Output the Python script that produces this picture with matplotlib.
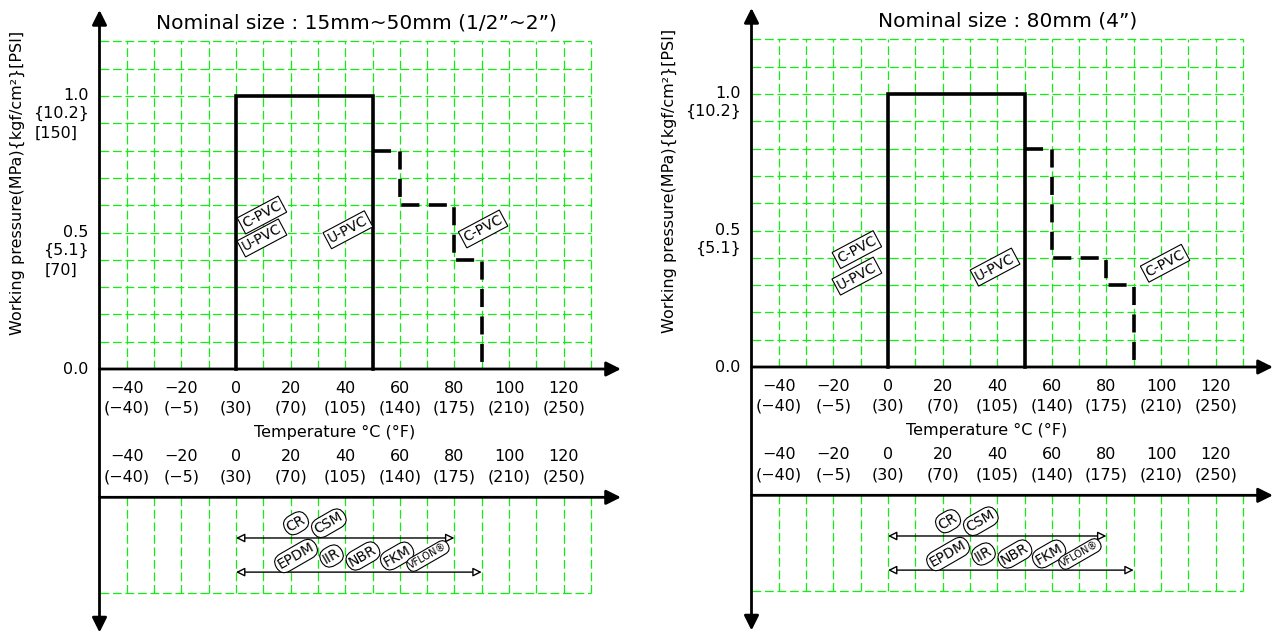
import matplotlib
matplotlib.use("Agg")
import matplotlib.pyplot as plt

# ------------------------------------------------------------------
# data
temps_c = [-40, -20, 0, 20, 40, 60, 80, 100, 120]
temps_f = ["(\u221240)", "(\u22125)", "(30)", "(70)", "(105)", "(140)", "(175)", "(210)", "(250)"]
grid_x = list(range(-40, 131, 10))
grid_y = [0.1 * i for i in range(1, 13)]

titles = ["Nominal size : 15mm~50mm (1/2\u201d~2\u201d)", "Nominal size : 80mm (4\u201d)"]

# U-PVC limit (solid) and C-PVC limit (dashed)
upvc_t = [0, 0, 50, 50]
upvc_p = [0, 1.0, 1.0, 0]
cpvc_small_t = [50, 60, 60, 80, 80, 90, 90]
cpvc_small_p = [0.8, 0.8, 0.6, 0.6, 0.4, 0.4, 0]
cpvc_80_t = [50, 60, 60, 80, 80, 90, 90]
cpvc_80_p = [0.8, 0.8, 0.4, 0.4, 0.3, 0.3, 0]

ytick_small = [(1.0, "1.0"), (0.938, "{10.2}"), (0.864, "[150]"),
               (0.5, "0.5"), (0.436, "{5.1}"), (0.363, "[70]"), (0.0, "0.0")]
ytick_80 = [(1.0, "1.0"), (0.938, "{10.2}"), (0.5, "0.5"), (0.436, "{5.1}"), (0.0, "0.0")]

# PVC labels (temp, pressure)
pvc_small = [("C-PVC", 9.5, 0.564), ("U-PVC", 9.5, 0.48), ("U-PVC", 41, 0.51), ("C-PVC", 90.5, 0.513)]
pvc_80 = [("C-PVC", -11.4, 0.43), ("U-PVC", -11.4, 0.333), ("U-PVC", 39.2, 0.366), ("C-PVC", 101.5, 0.38)]

# seal materials and their temperature ranges
seal_top = ["CR", "CSM"]
seal_top_t = [22, 34]
seal_top_range = (0, 80)
seal_bot = ["EPDM", "IIR", "NBR", "FKM", "VFLON\u00ae"]
seal_bot_t = [22, 35, 46.5, 59, 70.3]
seal_bot_range = (0, 90)

GREEN = "#11ee11"
FS = 11.5


def panel(ax, x0, y0, title, ut, up, ct, cp, yticks, pvc):
    # origin pixel (x0, y0) -> 0 degC / 0 MPa ; 27.3 px per 10 degC and per 0.1 MPa
    sx, sy = 2.73, 273.0
    ax.set_xlim(-x0 / sx, (637 - x0) / sx)
    ax.set_ylim((y0 - 634) / sy, y0 / sy)
    ax.axis("off")

    low = -0.47      # lower axis
    bot = -0.82      # bottom grid line

    # grid
    for g in grid_x:
        ax.plot([g, g], [0, 1.2], color=GREEN, lw=0.9, ls=(0, (7, 3)), zorder=1)
        ax.plot([g, g], [low, bot], color=GREEN, lw=0.9, ls=(0, (7, 3)), zorder=1)
    for g in grid_y:
        ax.plot([-50, 130], [g, g], color=GREEN, lw=0.9, ls=(0, (7, 3)), zorder=1)
    ax.plot([-50, 130], [bot, bot], color=GREEN, lw=0.9, ls=(0, (7, 3)), zorder=1)

    # axes with arrows
    arr = dict(arrowstyle="<|-|>", color="black", lw=2.0, mutation_scale=22, shrinkA=0, shrinkB=0)
    ax.annotate("", xy=(-50, 1.315), xytext=(-50, -0.965), arrowprops=arr, annotation_clip=False)
    arr1 = dict(arrowstyle="-|>", color="black", lw=2.0, mutation_scale=22, shrinkA=0, shrinkB=0)
    ax.annotate("", xy=(141, 0), xytext=(-50, 0), arrowprops=arr1, annotation_clip=False)
    ax.annotate("", xy=(141, low), xytext=(-50, low), arrowprops=arr1, annotation_clip=False)

    # pressure limits
    ax.plot(ut, up, color="black", lw=2.6, solid_joinstyle="miter", zorder=3)
    ax.plot(ct, cp, color="black", lw=2.6, ls=(0, (5, 2.6)), zorder=3)

    # tick labels
    for t, f in zip(temps_c, temps_f):
        lbl = ("\u2212%d" % -t) if t < 0 else str(t)
        for yy in (-0.07, -0.322):
            ax.text(t, yy, lbl, ha="center", va="center", fontsize=FS)
        for yy in (-0.143, -0.396):
            ax.text(t, yy, f, ha="center", va="center", fontsize=FS)
    ax.text(36, -0.234, "Temperature \u00b0C (\u00b0F)", ha="center", va="center", fontsize=FS)

    for p, s in yticks:
        xx = -58 if s.startswith("[") else -54
        ax.text(xx, p, s, ha="right", va="center", fontsize=FS)
    ax.text(-80, 0.68, "Working pressure(MPa){kgf/cm\u00b2}[PSI]", rotation=90,
            ha="center", va="center", fontsize=FS)

    ax.text(44, 1.268, title, ha="center", va="center", fontsize=14.5)

    # PVC tags
    for s, t, p in pvc:
        ax.text(t, p, s, rotation=28, ha="center", va="center", fontsize=10, zorder=4,
                bbox=dict(boxstyle="square,pad=0.15", fc="white", ec="black", lw=0.8))

    # seal materials
    seal_arr = dict(arrowstyle="<|-|>", fc="white", ec="black", lw=1.0, mutation_scale=13,
                    shrinkA=0, shrinkB=0)
    ax.annotate("", xy=(seal_top_range[1], -0.619), xytext=(seal_top_range[0], -0.619),
                arrowprops=seal_arr, zorder=3)
    ax.annotate("", xy=(seal_bot_range[1], -0.744), xytext=(seal_bot_range[0], -0.744),
                arrowprops=seal_arr, zorder=3)
    for s, t in zip(seal_top, seal_top_t):
        ax.text(t, -0.565, s, rotation=30, ha="center", va="center", fontsize=10, zorder=4,
                bbox=dict(boxstyle="round,pad=0.2,rounding_size=0.7", fc="white", ec="black", lw=0.8))
    for s, t in zip(seal_bot, seal_bot_t):
        fs = 7 if s.startswith("VF") else 10
        ax.text(t, -0.685, s, rotation=30, ha="center", va="center", fontsize=fs, zorder=4,
                bbox=dict(boxstyle="round,pad=0.2,rounding_size=0.7", fc="white", ec="black", lw=0.8))


fig = plt.figure(figsize=(12.74, 6.34), dpi=100)
ax1 = fig.add_axes([0, 0, 0.5, 1])
ax2 = fig.add_axes([0.5, 0, 0.5, 1])

panel(ax1, 236, 369, titles[0], upvc_t, upvc_p, cpvc_small_t, cpvc_small_p, ytick_small, pvc_small)
panel(ax2, 888 - 637, 367, titles[1], upvc_t, upvc_p, cpvc_80_t, cpvc_80_p, ytick_80, pvc_80)

fig.savefig("out.png", dpi=100)
